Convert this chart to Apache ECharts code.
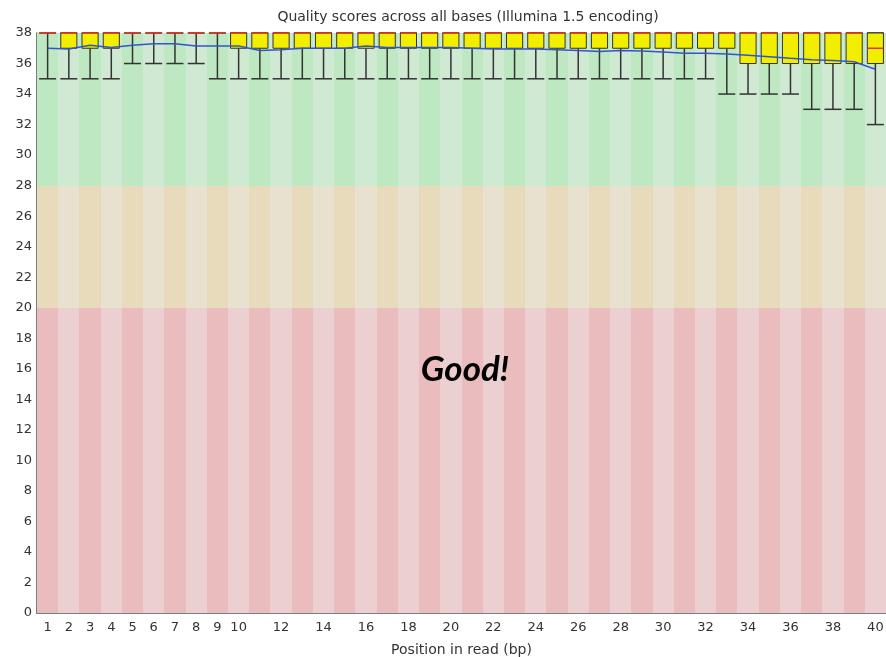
<!DOCTYPE html>
<html><head><meta charset="utf-8">
<script src="https://cdn.jsdelivr.net/npm/echarts@6/dist/echarts.min.js"></script>
<style>html,body{margin:0;padding:0;background:#fff}#c{width:886px;height:657px}</style>
</head><body><div id="c"></div>
<script>
// ---- data ----
const positions = ['1','2','3','4','5','6','7','8','9','10','11','12','13','14','15','16','17','18','19','20',
  '21','22','23','24','25','26','27','28','29','30','31','32','33','34','35','36','37','38','39','40'];
const meanQ = [37.0,36.95,37.2,37.05,37.2,37.3,37.3,37.15,37.15,37.15,36.85,36.9,37.0,37.0,37.0,37.15,37.05,37.05,37.05,37.05,
  37.0,36.95,36.95,36.95,36.9,36.85,36.78,36.85,36.82,36.75,36.67,36.67,36.63,36.54,36.45,36.34,36.24,36.2,36.12,35.62];
const medianQ = [38,38,38,38,38,38,38,38,38,38,38,38,38,38,38,38,38,38,38,38,
  38,38,38,38,38,38,38,38,38,38,38,38,38,38,38,38,38,38,38,37];
const lowerQuartile = [38,37,37,37,38,38,38,38,38,37,37,37,37,37,37,37,37,37,37,37,
  37,37,37,37,37,37,37,37,37,37,37,37,37,36,36,36,36,36,36,36];
const upperQuartile = [38,38,38,38,38,38,38,38,38,38,38,38,38,38,38,38,38,38,38,38,
  38,38,38,38,38,38,38,38,38,38,38,38,38,38,38,38,38,38,38,38];
const percentile10 = [35,35,35,35,36,36,36,36,35,35,35,35,35,35,35,35,35,35,35,35,
  35,35,35,35,35,35,35,35,35,35,35,35,34,34,34,34,33,33,33,32];
const percentile90 = [38,38,38,38,38,38,38,38,38,38,38,38,38,38,38,38,38,38,38,38,
  38,38,38,38,38,38,38,38,38,38,38,38,38,38,38,38,38,38,38,38];
const zoneNames = ['poor','reasonable','good'];
const zoneLower = [0,20,28];
const zoneUpper = [20,28,38];

// ---- styles ----
const zoneColors = {
  poor: ['#ebbcbe','#ebcfd1'],
  reasonable: ['#e8dbbb','#e8e1cf'],
  good: ['#bee8c1','#cfe9d2']
};
const FONT = 'DejaVu Sans';

const bgData = [];
positions.forEach((p,i)=>zoneNames.forEach((z,j)=>bgData.push([i, zoneLower[j], zoneUpper[j], j])));
const boxData = positions.map((p,i)=>[i, percentile10[i], lowerQuartile[i], medianQ[i], upperQuartile[i], percentile90[i]]);

function renderBg(params, api){
  const i = api.value(0), lo = api.value(1), hi = api.value(2), z = api.value(3);
  const w = api.size([1,0])[0];
  const c = api.coord([i, hi]);
  const b = api.coord([i, lo]);
  const x0 = Math.round(c[0]-w/2), x1 = Math.round(c[0]+w/2);
  const y0 = Math.round(c[1]), y1 = Math.round(b[1]);
  return {type:'rect', shape:{x:x0, y:y0, width:x1-x0, height:y1-y0},
    style:{fill: zoneColors[zoneNames[z]][i%2]}};
}

function renderBox(params, api){
  const i = api.value(0);
  const lo = api.value(1), a = api.value(2), m = api.value(3), b = api.value(4), hi = api.value(5);
  const w = api.size([1,0])[0];
  const bw = w*0.76, cw = w*0.8;
  const c = api.coord([i,0])[0];
  const Y = v => api.coord([i,v])[1];
  const yLo = Y(lo), yA = Y(a), yM = Y(m), yB = Y(b), yHi = Y(hi);
  const ws = {stroke:'#333', lineWidth:1.5};
  const ch = [];
  ch.push({type:'line', shape:{x1:c,y1:yA,x2:c,y2:yLo}, style:ws});
  ch.push({type:'line', shape:{x1:c,y1:yHi,x2:c,y2:yB}, style:ws});
  ch.push({type:'line', shape:{x1:c-cw/2,y1:yLo,x2:c+cw/2,y2:yLo}, style:ws});
  ch.push({type:'line', shape:{x1:c-cw/2,y1:yHi,x2:c+cw/2,y2:yHi}, style:ws});
  if (yA - yB > 0.5) {
    ch.push({type:'rect', shape:{x:c-bw/2, y:yB, width:bw, height:yA-yB},
      style:{fill:'#f2ee00', stroke:'#333', lineWidth:1}});
  }
  ch.push({type:'line', shape:{x1:c-bw/2,y1:yM,x2:c+bw/2,y2:yM}, style:{stroke:'#e8341c', lineWidth:1.5}});
  return {type:'group', children:ch};
}

const chart = echarts.init(document.getElementById('c'), null, {renderer:'canvas'});
chart.setOption({
  animation:false,
  backgroundColor:'#fff',
  title:{text:'Quality scores across all bases (Illumina 1.5 encoding)', left:463, top:5, textAlign:'center',
    textStyle:{fontFamily:FONT, fontSize:14, fontWeight:'normal', color:'#333'}},
  grid:{left:37, right:0, top:33, bottom:44, outerBoundsMode:'none', containLabel:false},
  xAxis:{type:'category', data:positions, boundaryGap:true,
    name:'Position in read (bp)', nameLocation:'middle', nameGap:30,
    nameTextStyle:{fontFamily:FONT, fontSize:14, color:'#333'},
    axisLine:{show:true, lineStyle:{color:'#555', width:1.5}},
    axisTick:{show:false},
    axisLabel:{interval:0, margin:8, fontFamily:FONT, fontSize:13, color:'#333',
      formatter:(v,idx)=> (idx<10 || (idx+1)%2===0) ? v : ''},
    splitLine:{show:false}},
  yAxis:{type:'value', min:0, max:38, interval:2,
    axisLine:{show:true, lineStyle:{color:'#555', width:1.5}},
    axisTick:{show:false},
    axisLabel:{margin:5, fontFamily:FONT, fontSize:13, color:'#333'},
    splitLine:{show:false}},
  graphic:[{type:'text', x:465, y:370, z:100,
    style:{text:'Good!', fontFamily:'Lato', fontSize:35, fontWeight:'bold', fontStyle:'italic', fill:'#000',
      align:'center', verticalAlign:'middle'}}],
  series:[
    {type:'custom', name:'background', renderItem:renderBg, data:bgData, z:1, silent:true,
      encode:{x:0, y:[1,2]}},
    {type:'custom', name:'quality', renderItem:renderBox, data:boxData, z:2,
      encode:{x:0, y:[1,2,3,4,5]}},
    {type:'line', name:'mean', data:meanQ, symbol:'none', z:3,
      lineStyle:{color:'#3355cc', width:1.5}}
  ]
});
</script></body></html>
